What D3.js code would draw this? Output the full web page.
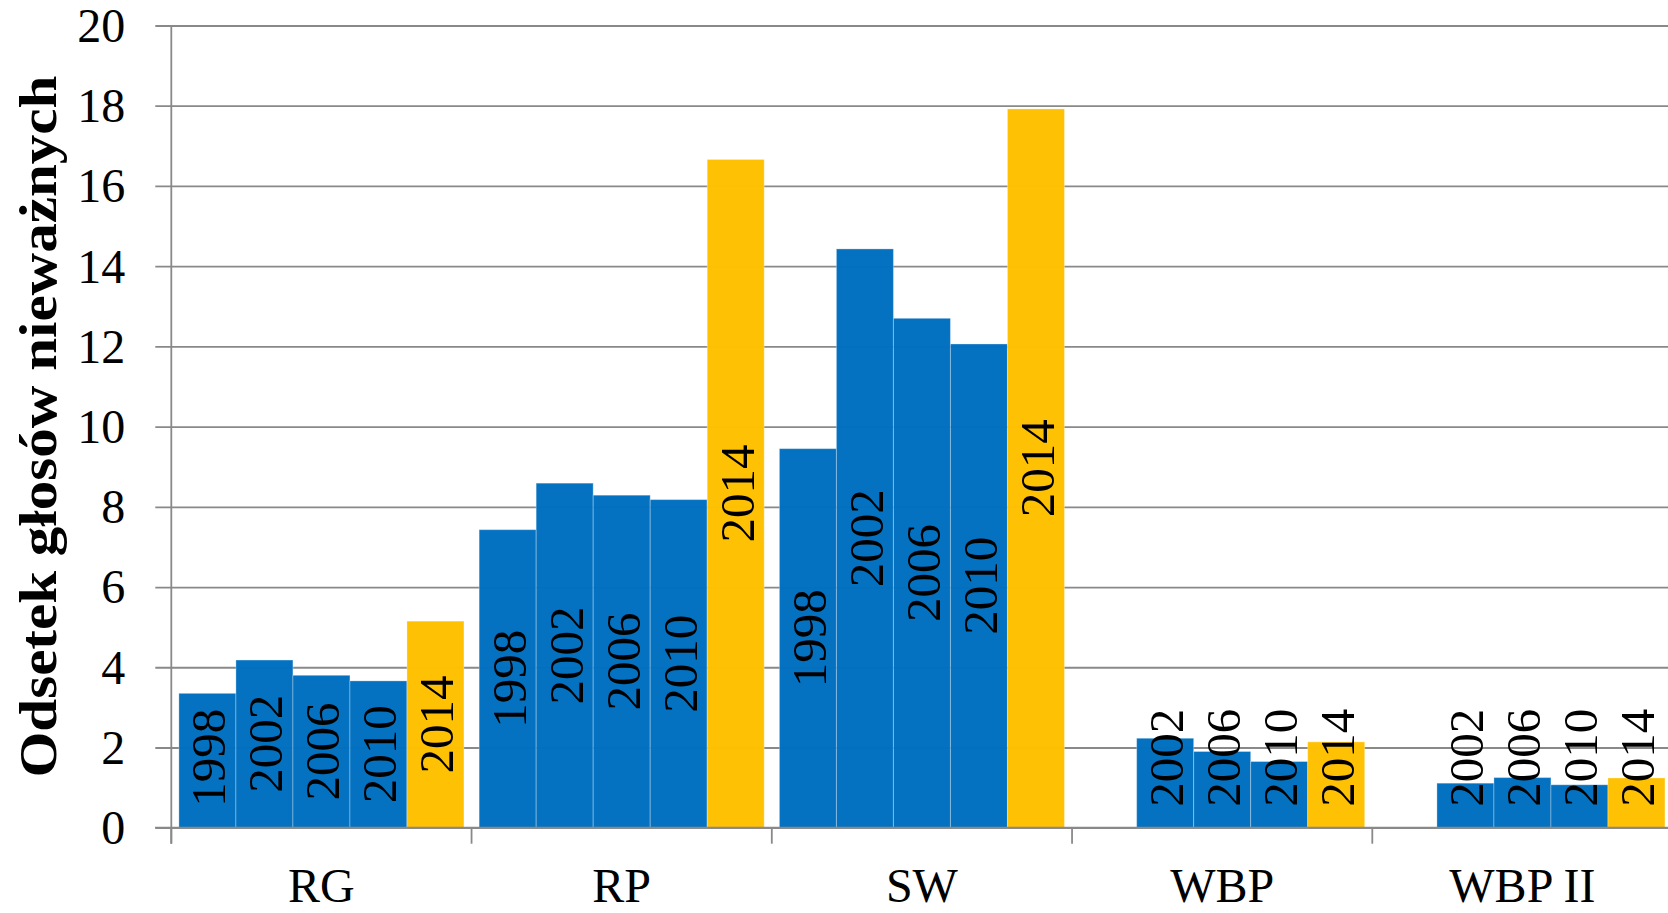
<!DOCTYPE html>
<html>
<head>
<meta charset="utf-8">
<script src="https://cdn.jsdelivr.net/npm/d3@7"></script>
<style>
  html, body { margin: 0; padding: 0; background: #fff; }
  svg { display: block; }
  text { font-family: "Liberation Serif", "Times New Roman", serif; fill: #000; }
</style>
</head>
<body>
<svg id="chart" width="1668" height="913"></svg>
<script>
// ---- data ----
const categories = ["RG", "RP", "SW", "WBP", "WBP II"];
const years = ["1998", "2002", "2006", "2010", "2014"];
const v1998 = [3.35, 7.43, 9.45, null, null];
const v2002 = [4.18, 8.59, 14.43, 2.23, 1.11];
const v2006 = [3.80, 8.29, 12.70, 1.90, 1.25];
const v2010 = [3.66, 8.18, 12.06, 1.65, 1.07];
const v2014 = [5.15, 16.66, 17.92, 2.14, 1.24];
const yTicks = [0, 2, 4, 6, 8, 10, 12, 14, 16, 18, 20];
const yTitle = "Odsetek głosów nieważnych";

const seriesValues = [v1998, v2002, v2006, v2010, v2014];
const rows = [];
categories.forEach((c, ci) => {
  years.forEach((yr, yi) => {
    const v = seriesValues[yi][ci];
    if (v !== null) rows.push({ cat: c, year: yr, value: v });
  });
});

// ---- layout ----
const svg = d3.select("#chart");
const axisX = 171.3, yTop = 25.5, yBottom = 827.7;
const x = d3.scaleBand().domain(categories).range([axisX, axisX + 5 * 300.25]).padding(0);
const xIn = d3.scaleBand().domain(years).range([7.6, x.bandwidth() - 7.6]).padding(0);
const y = d3.scaleLinear().domain([0, 20]).range([yBottom, yTop]);
const gray = "#898989";

// gridlines + y ticks
const yAxis = d3.axisLeft(y).tickValues(yTicks).tickSize(-(1668 - axisX)).tickSizeOuter(0).tickFormat(d3.format("d"));
const gy = svg.append("g").attr("transform", `translate(${axisX},0)`).call(yAxis);
gy.select(".domain").remove();
gy.selectAll(".tick line").attr("stroke", gray).attr("stroke-width", 1.8).attr("x1", -16);
gy.selectAll(".tick text")
  .attr("x", -46).attr("dy", "0.33em")
  .style("font-size", "48px").style("font-family", '"Liberation Serif", serif');

// bars
const colorFor = yr => yr === "2014" ? "#FFC000" : "#0070C0";
svg.append("g").selectAll("rect").data(rows).join("rect")
  .attr("x", d => x(d.cat) + xIn(d.year))
  .attr("width", xIn.bandwidth())
  .attr("y", d => y(d.value))
  .attr("height", d => y(0) - y(d.value))
  .attr("fill", d => colorFor(d.year))
  .attr("fill-opacity", 0.985)
  .attr("stroke", "rgba(255,255,255,0.3)")
  .attr("stroke-width", 1);

// x axis line and ticks
const xAxisG = svg.append("g");
xAxisG.append("line").attr("x1", 155).attr("x2", 1668).attr("y1", y(0)).attr("y2", y(0))
  .attr("stroke", gray).attr("stroke-width", 1.8);
xAxisG.append("line").attr("x1", axisX).attr("x2", axisX).attr("y1", yTop).attr("y2", y(0) + 16)
  .attr("stroke", gray).attr("stroke-width", 1.8);
xAxisG.selectAll("line.tk").data(categories).join("line").attr("class", "tk")
  .attr("x1", d => x(d)).attr("x2", d => x(d))
  .attr("y1", y(0)).attr("y2", y(0) + 16)
  .attr("stroke", gray).attr("stroke-width", 1.8);
xAxisG.selectAll("text.cat").data(categories).join("text").attr("class", "cat")
  .attr("x", d => x(d) + x.bandwidth() / 2)
  .attr("y", 902)
  .attr("text-anchor", "middle")
  .style("font-size", "48px")
  .text(d => d);

// bar labels (rotated, centred in bar, clamped near the baseline)
const labelFont = 49;
const labels = svg.append("g").selectAll("text").data(rows).join("text")
  .style("font-size", labelFont + "px")
  .attr("text-anchor", "middle")
  .text(d => d.year);
labels.each(function(d) {
  const len = this.getComputedTextLength();
  const cx = x(d.cat) + xIn(d.year) + xIn.bandwidth() / 2 + 18;
  const mid = (y(d.value) + y(0)) / 2;
  const cy = Math.min(mid, y(0) - 21 - len / 2);
  d3.select(this).attr("transform", `translate(${cx},${cy}) rotate(-90)`);
});

// y title
svg.append("text")
  .attr("transform", `translate(56,${(yTop + yBottom) / 2}) rotate(-90)`)
  .attr("text-anchor", "middle")
  .attr("textLength", 702)
  .attr("lengthAdjust", "spacingAndGlyphs")
  .style("font-size", "52px")
  .style("font-weight", "bold")
  .text(yTitle);
</script>
</body>
</html>
